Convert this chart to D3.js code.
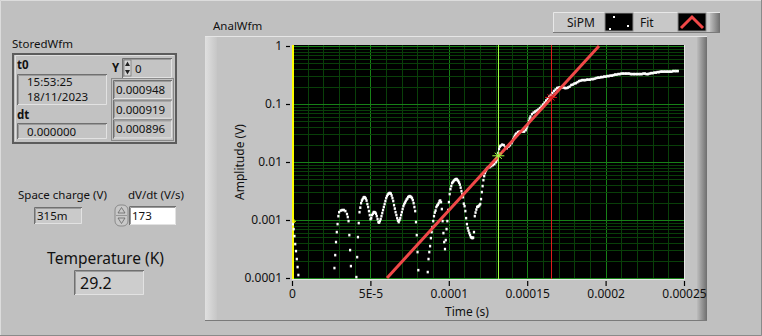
<!DOCTYPE html>
<html><head><meta charset="utf-8">
<script src="https://cdn.jsdelivr.net/npm/d3@7"></script>
<style>body{margin:0;background:#c0c0c0;overflow:hidden} text{font-family:"Noto Sans",sans-serif;}</style>
</head><body><svg id="c" width="762" height="336"></svg>
<script>
// ---------- data ----------
// SiPM samples: time in microseconds, amplitude in volts
const sipmTimeUs = [
0,0.5,1,1.5,2,2.5,3,3.5,4,
5,6,7,8,9,10,11,12,13,14,15,16,17,18,19,20,21,22,23,24,25,26,
27,27.5,28,28.5,29,29.5,30,31,32,33,34,35,35.5,36,36.5,37,37.5,38,39,40,
41,41.5,42,42.5,43,43.5,44,44.5,45,45.5,46,46.5,47,47.5,48,48.5,49,49.5,50,50.5,
51,51.5,52,52.5,53,53.5,54,54.5,55,55.5,56,56.5,57,57.5,58,58.5,59,59.5,60,60.5,
61,61.5,62,62.5,63,63.5,64,64.5,65,65.5,66,66.5,67,67.5,68,68.5,69,69.5,70,70.5,
71,71.5,72,72.5,73,73.5,74,74.5,75,75.5,76,76.5,77,77.5,78,78.5,79,79.5,80,80.5,
81,82,83,84,85,86,86.5,87,87.5,88,88.5,89,89.5,90,90.5,91,91.5,92,92.5,93,
93.5,94,94.5,95,95.5,96,96.5,97,97.5,98,98.5,99,99.5,100,100.5,101,101.5,102,102.5,103,
103.5,104,104.5,105,105.5,106,106.5,107,107.5,108,108.5,109,109.5,110,110.5,111,111.5,112,112.5,113,
113.5,114,114.5,115,115.5,116,116.5,117,117.5,118,118.5,119,119.5,120,120.5,121,121.5,122,122.5,123,
123.5,124,124.5,125,126,127,128,129,130,130.5,131,131.5,132,132.5,133,134,135,136,137,138,
139,140,140.5,141,141.5,142,142.5,143,144,145,146,147,148,149,149.5,150,150.5,151,151.5,152,
153,154,155,156,157,158,159,160,161,162,163,164,165,166,167,168,169,170,171,172,
173,174,175,176,177,178,179,180,181,182,183,184,185,186,187,188,189,190,191,192,
193,194,195,196,197,198,199,200,201,202,203,204,205,206,207,208,209,210,211,212,
213,214,215,216,217,218,219,220,221,222,223,224,225,226,227,228,229,230,231,232,
233,234,235,236,237,238,239,240,241,242,243,244,245,246
];
const sipmAmp = [
0.000948,0.000853,0.000700,0.000530,0.000386,0.000292,0.000213,0.000155,0.000113,
0.00005,0.00005,0.00005,0.00005,0.00005,0.00005,0.00005,0.00005,0.00005,0.00005,0.00005,0.00005,0.00005,0.00005,0.00005,0.00005,0.00005,0.00005,0.00005,0.00005,0.00005,0.00005,
0.000149,0.000249,0.000418,0.000621,0.000853,0.00117,0.00137,0.00146,0.00149,0.00149,0.00143,0.00127,0.00113,0.000961,0.000551,0.000304,0.000161,0.00005,0.00005,0.00005,
0.000104,0.000230,0.000509,0.000888,0.00137,0.00164,0.00196,0.00217,0.00230,0.00244,0.00249,0.00245,0.00235,0.00217,0.00189,0.00168,0.00143,0.00122,0.00104,0.00108,
0.00122,0.00129,0.00137,0.00137,0.00135,0.00129,0.00117,0.00104,0.000924,0.000906,0.000961,0.00104,0.00117,0.00132,0.00149,0.00168,0.00189,0.00213,0.00239,0.00259,
0.00275,0.00286,0.00292,0.00292,0.00286,0.00265,0.00239,0.00213,0.00181,0.00158,0.00137,0.00122,0.00108,0.00098,0.000924,0.00100,0.00108,0.00122,0.00137,0.00155,
0.00174,0.00189,0.00200,0.00213,0.00226,0.00235,0.00249,0.00254,0.00259,0.00254,0.00249,0.00239,0.00221,0.00196,0.00168,0.00143,0.000924,0.000551,0.000281,0.000137,
0.00005,0.00005,0.00005,0.00005,0.00005,0.00005,0.000127,0.000213,0.000281,0.000356,0.000489,0.000621,0.000757,0.000961,0.00117,0.00135,0.00146,0.00168,0.00178,0.00185,
0.00196,0.00213,0.00217,0.00204,0.00155,0.000961,0.000597,0.000418,0.000316,0.000452,0.000700,0.000961,0.00149,0.00204,0.00281,0.00342,0.00386,0.00434,0.00452,0.00470,
0.00489,0.00499,0.00509,0.00509,0.00489,0.00470,0.00443,0.00409,0.00363,0.00316,0.00281,0.00249,0.00192,0.00174,0.00143,0.00108,0.000853,0.000728,0.000659,0.000597,
0.000551,0.000509,0.000499,0.000489,0.000499,0.000621,0.00117,0.00135,0.00152,0.00168,0.00171,0.00174,0.00181,0.00189,0.00230,0.00304,0.00386,0.00489,0.00574,0.00646,
0.00700,0.00757,0.00788,0.00804,0.00820,0.00853,0.00888,0.00924,0.0100,0.0108,0.0122,0.0143,0.0168,0.0185,0.0192,0.0200,0.0196,0.0181,0.0174,0.0185,
0.0196,0.0213,0.0230,0.0249,0.0264,0.0281,0.0298,0.0310,0.0329,0.0336,0.0336,0.0336,0.0336,0.0356,0.0386,0.0418,0.0461,0.0509,0.0562,0.0609,
0.0673,0.0714,0.0743,0.0773,0.0804,0.0853,0.0906,0.098,0.106,0.115,0.124,0.135,0.143,0.155,0.168,0.178,0.189,0.193,0.193,0.196,
0.193,0.189,0.189,0.193,0.200,0.213,0.217,0.226,0.230,0.239,0.249,0.254,0.259,0.259,0.259,0.264,0.264,0.264,0.270,0.270,
0.275,0.281,0.286,0.286,0.292,0.292,0.298,0.298,0.304,0.304,0.310,0.310,0.316,0.323,0.323,0.329,0.329,0.336,0.336,0.336,
0.336,0.336,0.336,0.329,0.329,0.329,0.329,0.329,0.329,0.329,0.329,0.336,0.336,0.329,0.329,0.336,0.342,0.342,0.349,0.349,
0.356,0.356,0.363,0.363,0.363,0.363,0.363,0.363,0.363,0.363,0.371,0.371,0.371,0.371
];
const fitTime = [6.06e-5, 1.958e-4];
const fitAmp = [1e-4, 1];
const cursorTime = [0, 1.316e-4, 1.652e-4];
const cursorAmp = [0.00095, 0.0128, 0.13];
const xTickValues = [0, 5e-5, 1e-4, 1.5e-4, 2e-4, 2.5e-4];
const xTickLabels = ["0", "5E-5", "0.0001", "0.00015", "0.0002", "0.00025"];
const yTickValues = [1e-4, 1e-3, 1e-2, 1e-1, 1];
const yTickLabels = ["0.0001", "0.001", "0.01", "0.1", "1"];
const legendNames = ["SiPM", "Fit"];
const storedT0 = ["15:53:25", "18/11/2023"];
const storedDt = "0.000000";
const storedIndex = "0";
const storedY = ["0.000948", "0.000919", "0.000896"];
const spaceCharge = "315m";
const dvdt = "173";
const temperature = "29.2";

// ---------- drawing ----------
const svg = d3.select("#c");
const defs = svg.append("defs");
const g = svg.append("g");
const BG = "#c0c0c0";
const FS = 11.5;
g.append("rect").attr("width", 762).attr("height", 336).attr("fill", BG);

function rect(x, y, w, h, fill, stroke, sw) {
  const r = g.append("rect").attr("x", x).attr("y", y).attr("width", w).attr("height", h).attr("fill", fill || "none");
  if (stroke) r.attr("stroke", stroke).attr("stroke-width", sw || 1);
  return r;
}
function line(d, stroke, sw) {
  return g.append("path").attr("d", d).attr("fill", "none").attr("stroke", stroke).attr("stroke-width", sw || 1);
}
function sunken(x, y, w, h, fill) {
  rect(x, y, w, h, fill);
  line(`M${x+0.5},${y+h}V${y+0.5}H${x+w}`, "#707070", 1);
  line(`M${x+1.5},${y+h-1}V${y+1.5}H${x+w-1}`, "#9a9a9a", 1);
  line(`M${x+w-0.5},${y+1}V${y+h-0.5}H${x+1}`, "#e2e2e2", 1);
}
function txt(x, y, s, size, opts) {
  opts = opts || {};
  return g.append("text").attr("x", x).attr("y", y).text(s)
    .attr("font-size", size || FS)
    .attr("fill", opts.fill || "#111")
    .attr("font-weight", opts.bold ? "bold" : null)
    .attr("text-anchor", opts.anchor || "start");
}

// window frame
line("M0.5,336V0.5H762", "#dcdcdc", 1);
line("M761.5,0V335.5H0", "#8a8a8a", 1);

// ---- StoredWfm cluster ----
txt(12, 48, "StoredWfm");
rect(13, 54, 163, 89, "#c2c2c2", "#5c5c5c", 2);
line("M15.5,141V55.5H174", "#e0e0e0", 1);
txt(17, 69, "t0", FS, {bold: true});
sunken(17, 74, 90, 31, "#c4c4c4");
txt(27, 86, storedT0[0]);
txt(27, 101, storedT0[1]);
txt(17, 119, "dt", FS, {bold: true});
sunken(17, 123, 90, 16, "#c4c4c4");
txt(27, 135.5, storedDt);

txt(112, 72, "Y", FS, {bold: true});
sunken(122, 58, 50, 20, "#c4c4c4");
rect(124, 60, 7, 16, "#d6d6d6", "#7a7a7a", 0.8);
g.append("path").attr("d", "M127.5,61.5L130,66H125Z").attr("fill", "#222");
g.append("path").attr("d", "M127.5,74.5L130,70H125Z").attr("fill", "#222");
txt(135, 72.5, storedIndex);
rect(111.5, 78.5, 62, 62, "none", "#8a8a8a", 1);
storedY.forEach((s, i) => {
  sunken(113, 80 + i * 19.7, 59, 19, "#c4c4c4");
  txt(116, 94 + i * 19.7, s);
});

// ---- Space charge / dV/dt ----
txt(18, 199, "Space charge (V)");
sunken(34, 207, 48, 17, "#cacaca");
txt(37, 220, spaceCharge);
txt(128, 199, "dV/dt (V/s)");
g.append("rect").attr("x", 115).attr("y", 205).attr("width", 13).attr("height", 21).attr("rx", 5)
  .attr("fill", "#c8c8c8").attr("stroke", "#8a8a8a");
line("M116,215.5H127", "#8a8a8a", 0.8);
g.append("path").attr("d", "M121.5,207.5L125,213H118Z").attr("fill", "none").attr("stroke", "#666").attr("stroke-width", 0.8);
g.append("path").attr("d", "M121.5,223.5L125,218H118Z").attr("fill", "none").attr("stroke", "#666").attr("stroke-width", 0.8);
sunken(129, 206, 47, 19, "#ffffff");
txt(132, 220, dvdt);

txt(105.5, 264, "Temperature (K)", 15.5, {anchor: "middle"});
sunken(74, 270, 70, 25, "#cdcdcd");
txt(80, 289, temperature, 16);

// ---- Graph frame ----
const lg = defs.append("linearGradient").attr("id", "rEdge").attr("x1", 0).attr("x2", 1);
lg.append("stop").attr("offset", 0).attr("stop-color", "#bdbdbd");
lg.append("stop").attr("offset", 1).attr("stop-color", "#6e6e6e");
const lg2 = defs.append("linearGradient").attr("id", "lEdge").attr("x1", 0).attr("x2", 1);
lg2.append("stop").attr("offset", 0).attr("stop-color", "#e0e0e0");
lg2.append("stop").attr("offset", 1).attr("stop-color", "#c6c6c6");

txt(213, 30, "AnalWfm");
rect(205, 36, 502, 285, "#c3c3c3");
rect(205, 36, 12, 285, "url(#lEdge)");
rect(697, 36, 10, 285, "url(#rEdge)");
line("M205,36.5H707", "#e6e6e6", 1);
line("M205,320.5H707", "#7a7a7a", 1);

// ---- Legend ----
rect(553, 12, 167, 21, "#c8c8c8");
rect(710, 12, 10, 21, "url(#rEdge)");
line("M553.5,33V12.5H720", "#e8e8e8", 1);
line("M553,32.5H720", "#7a7a7a", 1);
txt(567, 27, legendNames[0], 12);
rect(605, 13, 28, 18, "#000", "#8a8a8a", 1);
[[613, 16], [609, 28], [627, 25]].forEach(p => rect(p[0], p[1], 2, 2, "#fff"));
txt(640, 27, legendNames[1], 12);
rect(678, 13, 28, 18, "#000", "#8a8a8a", 1);
g.append("path").attr("d", "M681,28L692,17L703,28").attr("fill", "none").attr("stroke", "#f04848").attr("stroke-width", 3);

// ---- Plot ----
const x = d3.scaleLinear().domain([0, 2.5e-4]).range([292, 684]);
const y = d3.scaleLog().domain([1e-4, 1]).range([278, 46]);
const px0 = 292, px1 = 684, py0 = 45, py1 = 279;

defs.append("clipPath").attr("id", "plotClip")
  .append("rect").attr("x", px0).attr("y", py0).attr("width", px1 - px0).attr("height", py1 - py0);

rect(px0, py0, px1 - px0, py1 - py0, "#000");
const plot = g.append("g").attr("clip-path", "url(#plotClip)");

const MAJOR = "#178017", MINOR = "#093f09";
const minorX = d3.range(0, 26).map(i => i * 1e-5);
minorX.forEach(t => {
  const major = xTickValues.some(v => Math.abs(v - t) < 1e-9);
  const xx = Math.round(x(t)) + 0.5;
  plot.append("line").attr("x1", xx).attr("x2", xx).attr("y1", py0).attr("y2", py1)
    .attr("stroke", major ? MAJOR : MINOR).attr("stroke-width", 1);
});
yTickValues.slice(0, 4).forEach(d => {
  d3.range(2, 10).forEach(k => {
    const yy = Math.round(y(d * k)) + 0.5;
    plot.append("line").attr("x1", px0).attr("x2", px1).attr("y1", yy).attr("y2", yy)
      .attr("stroke", MINOR).attr("stroke-width", 1);
  });
});
yTickValues.forEach(d => {
  const yy = Math.round(y(d)) + 0.5;
  plot.append("line").attr("x1", px0).attr("x2", px1).attr("y1", yy).attr("y2", yy)
    .attr("stroke", MAJOR).attr("stroke-width", 1);
});

// cursor lines
const cursorColors = ["#ffff00", "#a0ff40", "#dd1a1a"];
cursorTime.forEach((t, i) => {
  const xx = i === 0 ? x(t) + 1 : Math.round(x(t)) + 0.5;
  plot.append("line").attr("x1", xx).attr("x2", xx).attr("y1", py0).attr("y2", py1)
    .attr("stroke", cursorColors[i]).attr("stroke-width", i === 0 ? 2 : 1);
});

// data points
const pts = sipmAmp.map((v, i) => ({t: sipmTimeUs[i] * 1e-6, v}))
  .filter(d => d.v >= 1e-4 && d.v <= 1.2);
plot.selectAll("rect.pt").data(pts).join("rect").attr("class", "pt")
  .attr("x", d => x(d.t) - 1).attr("y", d => y(d.v) - 1.2)
  .attr("width", 2.2).attr("height", 2.6).attr("fill", "#fff");

// fit line
const fitData = fitTime.map((t, i) => ({t, v: fitAmp[i]}));
plot.append("path").datum(fitData)
  .attr("d", d3.line().x(d => x(d.t)).y(d => y(d.v)))
  .attr("fill", "none").attr("stroke", "#f04848").attr("stroke-width", 3);

// cursor markers
cursorTime.forEach((t, i) => {
  const cx = x(t) + (i === 0 ? 1 : 0), cy = y(cursorAmp[i]);
  const r = i === 0 ? 3 : 6;
  plot.append("path")
    .attr("d", `M${cx - r},${cy}H${cx + r}M${cx},${cy - r * 0.7}V${cy + r * 0.7}M${cx - r * 0.6},${cy - r * 0.5}L${cx + r * 0.6},${cy + r * 0.5}M${cx - r * 0.6},${cy + r * 0.5}L${cx + r * 0.6},${cy - r * 0.5}`)
    .attr("stroke", cursorColors[i]).attr("stroke-width", 1).attr("fill", "none");
});
line(`M${px1 + 0.5},${py0}V${py1 + 0.5}H${px0}`, "#e8e8e8", 1);

// axes
const yAxis = d3.axisLeft(y).tickValues(yTickValues).tickFormat((d, i) => yTickLabels[i]).tickSize(4).tickPadding(4);
const ya = g.append("g").attr("transform", "translate(290,0)").call(yAxis);
const xAxis = d3.axisBottom(x).tickValues(xTickValues).tickFormat((d, i) => xTickLabels[i]).tickSize(5).tickPadding(3);
const xa = g.append("g").attr("transform", "translate(0,281)").call(xAxis);
[ya, xa].forEach(a => {
  a.select(".domain").remove();
  a.selectAll(".tick line").attr("stroke", "#000").attr("stroke-width", 1.2);
  a.selectAll("text").attr("fill", "#111").attr("font-size", 12).attr("font-family", "Noto Sans, sans-serif");
});

txt(467, 316, "Time (s)", 12, {anchor: "middle"});
g.append("text").attr("transform", "translate(244,162) rotate(-90)").attr("text-anchor", "middle")
  .attr("font-size", 12).attr("fill", "#111").text("Amplitude (V)");
</script></body></html>
